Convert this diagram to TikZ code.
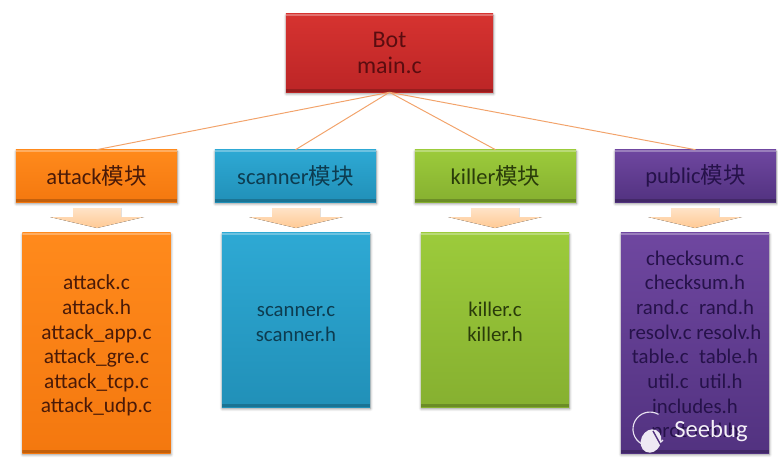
\documentclass[tikz,border=0pt]{standalone}
\usepackage{fontspec}
\setmainfont{Carlito}
\newfontfamily\cjk{Noto Sans CJK SC}
\usetikzlibrary{shadows.blur}
\definecolor{redtop}{HTML}{D63330}
\definecolor{redbot}{HTML}{BC2526}
\definecolor{orgtop}{HTML}{FF8A1C}
\definecolor{orgbot}{HTML}{F4780F}
\definecolor{blutop}{HTML}{2EA9D4}
\definecolor{blubot}{HTML}{2190B8}
\definecolor{grntop}{HTML}{9CCB3B}
\definecolor{grnbot}{HTML}{86B030}
\definecolor{purtop}{HTML}{6F47A0}
\definecolor{purbot}{HTML}{523280}
\definecolor{redtxt}{HTML}{5A0D10}
\definecolor{orgtxt}{HTML}{4A1A08}
\definecolor{blutxt}{HTML}{0D3C50}
\definecolor{grntxt}{HTML}{2A3C0A}
\definecolor{purtxt}{HTML}{26124A}
\definecolor{linkline}{HTML}{F2A36B}
\newcommand{\topgap}[1]{\rule{0pt}{#1pt}}
\tikzset{
  box/.style n args={3}{rectangle,inner sep=0pt,align=center,
    top color=#1,bottom color=#2,text=#3,
    path picture={
      \fill [white,opacity=.3] (path picture bounding box.north west) rectangle
        ([yshift=-1.6pt]path picture bounding box.north east);
      \fill [black,opacity=.2] (path picture bounding box.south west) rectangle
        ([yshift=2.2pt]path picture bounding box.south east);},
    blur shadow={shadow xshift=0.3pt,shadow yshift=-1.2pt,shadow blur steps=6,shadow opacity=45}},
  head/.style={box={#1},minimum width=4.025cm,minimum height=1.3cm,
    font=\fontsize{16}{20}\selectfont},
  list/.style={box={#1},minimum width=3.7cm,
    font=\fontsize{14.8}{17.5}\selectfont},
  link/.style={draw=linkline,line width=0.7pt},
  downarrow/.style={top color=orange!22!white,bottom color=orange!42!white,draw=none}
}
\begin{document}
\begin{tikzpicture}[x=0.025cm,y=-0.025cm]  % ------ px of the reference ------
    \useasboundingbox (0,0) rectangle (778,460);

    \node [box={redtop}{redbot}{redtxt},minimum width=5.175cm,minimum height=1.95cm,
      font=\fontsize{17}{18}\selectfont] (bot) at (389.5,53) {Bot\\main.c};

    \node [head={orgtop}{orgbot}{orgtxt}] (attack) at (96.5,176) {attack{\cjk 模块}};
    \node [head={blutop}{blubot}{blutxt}] (scanner) at (295.5,176) {scanner{\cjk 模块}};
    \node [head={grntop}{grnbot}{grntxt}] (killer) at (495.5,176) {killer{\cjk 模块}};
    \node [head={purtop}{purbot}{purtxt}] (public) at (695.5,176) {public{\cjk 模块}};

    \foreach \cx in {97,296,495,695} {
      \fill [downarrow] (\cx-24,208) -- (\cx+24,208) -- (\cx+24,217) -- (\cx+47,217)
        -- (\cx,228) -- (\cx-47,217) -- (\cx-24,217) -- cycle;
    }

    \node [list={orgtop}{orgbot}{orgtxt},minimum height=5.5cm,
      font=\fontsize{15.2}{17.5}\selectfont] (attackfiles) at (96.5,343)
      {\topgap{14.5}attack.c\\attack.h\\attack\_app.c\\attack\_gre.c\\attack\_tcp.c\\attack\_udp.c};
    \node [list={blutop}{blubot}{blutxt},minimum height=4.35cm] (scannerfiles) at (296,320)
      {\topgap{12.5}scanner.c\\scanner.h};
    \node [list={grntop}{grnbot}{grntxt},minimum height=4.35cm] (killerfiles) at (495,320)
      {\topgap{12.5}killer.c\\killer.h};
    \node [list={purtop}{purbot}{purtxt},minimum height=5.5cm] (publicfiles) at (695,343)
      {\topgap{14.5}checksum.c\\checksum.h\\rand.c\enspace rand.h\\resolv.c resolv.h\\table.c\enspace table.h\\util.c\enspace util.h\\includes.h\\protocol.h};

    \draw [link] (bot.south) -- (attack.north);
    \draw [link] (bot.south) -- (scanner.north);
    \draw [link] (bot.south) -- (killer.north);
    \draw [link] (bot.south) -- (public.north);

    % watermark
    \draw [white!85!purtop,line width=0.8pt] (663,440) arc [start angle=40,end angle=300,radius=17];
    \fill [white!88!purtop,rotate around={-25:(651,441)}] (651,441) ellipse (10 and 12);
    \draw [purbot,line width=1pt] (653,431) -- (663,449);
    \node [text=white!92!purtop,font=\fontsize{17.5}{17.5}\selectfont] (mark) at (711,431) {Seebug};
\end{tikzpicture}
\end{document}
